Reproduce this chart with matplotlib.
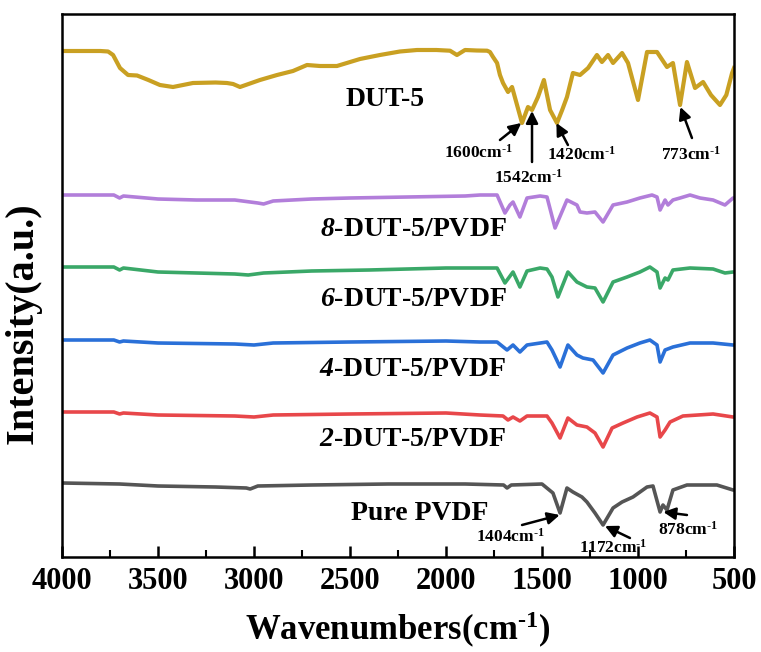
import matplotlib.pyplot as plt
from matplotlib.ticker import MultipleLocator

# 字体：Times 风格粗体
plt.rcParams['font.family'] = ['Liberation Serif', 'DejaVu Serif']
plt.rcParams['font.weight'] = 'bold'
plt.rcParams['mathtext.fontset'] = 'custom'
plt.rcParams['mathtext.rm'] = 'Liberation Serif:bold'
plt.rcParams['mathtext.it'] = 'Liberation Serif:italic:bold'
plt.rcParams['mathtext.bf'] = 'Liberation Serif:bold'
plt.rcParams['mathtext.cal'] = 'Liberation Serif:italic:bold'  # 用于斜体数字
plt.rcParams['mathtext.default'] = 'rm'

# 数据（从图中读取，强度为任意单位，已含堆叠偏移）
wn_dut5 = [4000, 3900, 3800, 3760, 3734, 3698, 3656, 3609, 3550, 3490, 3422, 3318, 3200, 3141, 3109,
           3073, 2969, 2880, 2797, 2724, 2656, 2568, 2448, 2344, 2240, 2151, 2050, 1979, 1943, 1901,
           1840, 1786, 1771, 1755, 1734, 1719, 1703, 1677, 1656, 1630, 1604, 1573, 1552, 1521, 1490,
           1458, 1422, 1395, 1370, 1339, 1302, 1260, 1214, 1188, 1156, 1130, 1083, 1052, 1000, 953,
           901, 849, 818, 781, 745, 703, 661, 620, 573, 540, 510, 500]
int_dut5 = [506, 506, 506, 505.5, 502, 489, 482, 481.5, 477, 472, 470, 474, 474.5, 474, 473,
            470, 477, 482, 486, 492, 491, 491, 498, 502, 505.5, 507, 507, 506.3, 502, 507,
            506.5, 506.3, 505, 500, 494, 482, 474, 465, 470, 452, 434, 450, 447, 460, 477,
            447, 434, 447, 460, 484, 482, 489, 502, 495, 502, 494, 504, 494, 457, 505,
            505, 490, 494, 452, 495, 469, 475, 462, 452, 462, 484, 489]

wn_8 = [4000, 3800, 3730, 3700, 3680, 3500, 3300, 3100, 2980, 2950, 2900, 2700, 2500, 2200, 1900,
        1823, 1734, 1693, 1667, 1651, 1615, 1578, 1510, 1474, 1432, 1370, 1318, 1302, 1266, 1224,
        1182, 1130, 1057, 990, 927, 901, 885, 859, 844, 818, 781, 729, 677, 609, 547, 505, 500]
int_8 = [362, 362, 362, 359, 361, 358, 357, 357, 354, 353, 356, 358, 359, 360, 361,
         362, 362, 344, 352, 355, 340, 359, 361, 360, 329, 357, 352, 345, 344, 345,
         335, 352, 355, 359, 362, 360, 347, 357, 352, 357, 359, 362, 359, 357, 352, 359, 359]

wn_6 = [4000, 3730, 3700, 3680, 3500, 3100, 3030, 2950, 2700, 2400, 2000, 1823, 1734, 1693, 1651,
        1615, 1578, 1510, 1474, 1448, 1417, 1365, 1318, 1266, 1224, 1182, 1130, 1057, 990, 938,
        901, 885, 859, 844, 818, 729, 609, 547, 505, 500]
int_6 = [290, 290, 287, 289, 285, 283, 282, 284, 286, 287, 289, 289, 289, 274, 285,
         270, 286, 289, 288, 280, 260, 285, 275, 270, 269, 255, 275, 280, 285, 290,
         285, 269, 279, 277, 287, 289, 288, 284, 285, 285]

wn_4 = [4000, 3730, 3700, 3680, 3500, 3100, 3000, 2900, 2500, 2000, 1823, 1734, 1682, 1651, 1615,
        1578, 1474, 1448, 1406, 1365, 1318, 1287, 1234, 1182, 1130, 1057, 990, 938, 901, 885,
        859, 818, 729, 609, 505, 500]
int_4 = [217, 217, 215, 216, 214, 213, 212, 214, 215, 216, 215, 215, 207, 212, 205,
         212, 215, 207, 190, 212, 202, 199, 197, 184, 202, 209, 214, 217, 212, 195,
         207, 210, 214, 214, 212, 212]

wn_2 = [4000, 3730, 3700, 3680, 3500, 3100, 3000, 2900, 2500, 2000, 1823, 1703, 1677, 1651, 1615,
        1578, 1474, 1448, 1406, 1365, 1318, 1266, 1224, 1182, 1135, 1078, 1005, 938, 901, 885,
        859, 833, 766, 609, 505, 500]
int_2 = [145, 145, 143, 144, 142, 141, 140, 142, 143, 144, 142, 141, 137, 140, 136,
         141, 141, 134, 119, 139, 132, 130, 124, 110, 129, 134, 140, 144, 140, 120,
         127, 135, 141, 143, 140, 140]

wn_pvdf = [4000, 3700, 3500, 3200, 3040, 3020, 2980, 2700, 2300, 1900, 1700, 1682, 1660, 1500, 1443,
           1406, 1370, 1339, 1292, 1266, 1224, 1182, 1130, 1083, 1026, 953, 922, 885, 870, 849,
           818, 745, 589, 505, 500]
int_pvdf = [74, 73, 71, 70, 69, 68, 71, 72, 73, 73, 72, 69, 72, 73, 64,
            44, 69, 65, 60, 55, 44, 32, 49, 55, 60, 70, 71, 45, 52, 47,
            67, 72, 72, 67, 67]

# 曲线标签（文字, 波数, 强度）
curve_labels = [
    ('DUT-5', 2318, 457),
    (r'$\mathcal{8}$-DUT-5/PVDF', 2172, 327),
    (r'$\mathcal{6}$-DUT-5/PVDF', 2172, 257),
    (r'$\mathcal{4}$-DUT-5/PVDF', 2174, 187),
    (r'$\mathcal{2}$-DUT-5/PVDF', 2172, 117),
    ('Pure PVDF', 2135, 44),
]

# 峰标注：文字, 文字位置, 箭尾, 箭头
unit = r'cm$^{\text{-1}}$'
peak_notes = [
    ('1600' + unit, (1833, 404), (1719, 417), (1608, 434)),
    ('1542' + unit, (1573, 379), (1552, 395), (1552, 446)),
    ('1420' + unit, (1297, 402), (1365, 412), (1425, 434)),
    ('773' + unit, (724, 402), (719, 419), (779, 450)),
    ('1404' + unit, (1667, 20), (1604, 32), (1408, 42)),
    ('1172' + unit, (1130, 9), (1042, 19), (1172, 31)),
    ('878' + unit, (740, 27), (745, 42), (868, 45)),
]

fig = plt.figure(figsize=(7.61, 6.52), dpi=100)
ax = fig.add_axes([62 / 761, 1 - 557 / 652, 672 / 761, 543 / 652])

ax.plot(wn_pvdf, int_pvdf, color='#555555', lw=2.6, solid_joinstyle='round')
ax.plot(wn_2, int_2, color='#E8474A', lw=2.6, solid_joinstyle='round')
ax.plot(wn_4, int_4, color='#2A70D8', lw=2.6, solid_joinstyle='round')
ax.plot(wn_6, int_6, color='#3AA868', lw=2.6, solid_joinstyle='round')
ax.plot(wn_8, int_8, color='#B27EDA', lw=2.6, solid_joinstyle='round')
ax.plot(wn_dut5, int_dut5, color='#C9A022', lw=3.0, solid_joinstyle='round')

for txt, x, y in curve_labels:
    ax.text(x, y, txt, fontsize=20, fontweight='bold', ha='center', va='center')

for txt, tpos, tail, head in peak_notes:
    ax.annotate('', xy=head, xytext=tail,
                arrowprops=dict(arrowstyle='-|>', color='black', lw=1.8,
                                mutation_scale=18, shrinkA=0, shrinkB=0))
    ax.text(tpos[0], tpos[1], txt, fontsize=12.5, fontweight='bold',
            ha='center', va='center')

ax.set_xlim(4000, 500)
ax.set_ylim(0, 543)
ax.xaxis.set_major_locator(MultipleLocator(500))
ax.xaxis.set_minor_locator(MultipleLocator(250))
ax.tick_params(axis='x', which='major', direction='in', length=8, width=1.8,
               labelsize=22, pad=7, top=False)
ax.tick_params(axis='x', which='minor', direction='in', length=5, width=1.5, top=False)
ax.set_yticks([])
for s in ax.spines.values():
    s.set_linewidth(1.8)

ax.set_xlabel(r'Wavenumbers(cm$^{\text{-1}}$)', fontsize=25, fontweight='bold', labelpad=10)
ax.set_ylabel('Intensity(a.u.)', fontsize=29, fontweight='bold')
ax.yaxis.set_label_coords(-0.03, 0.43)

fig.savefig('out.png', dpi=100)
